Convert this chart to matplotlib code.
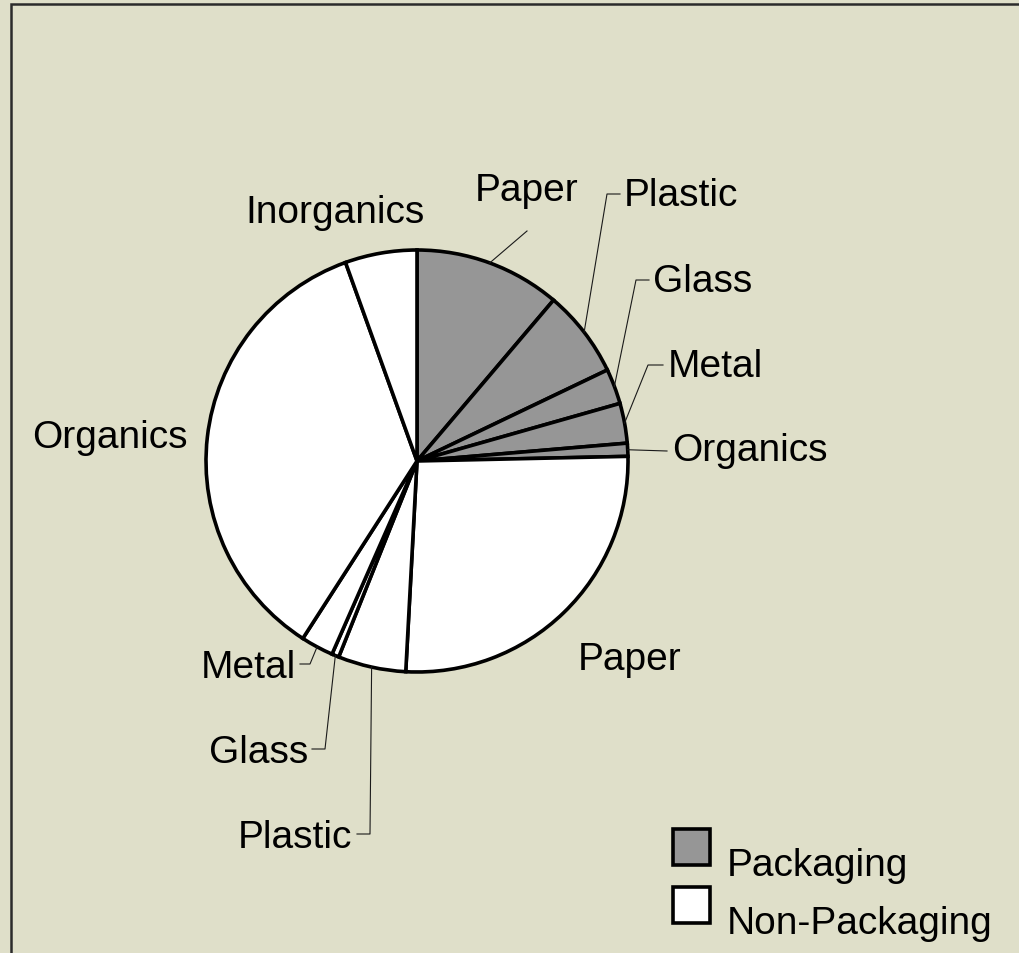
import numpy as np
import matplotlib
matplotlib.use("Agg")
import matplotlib.pyplot as plt
from matplotlib.patches import Rectangle

# Waste composition (% of total), clockwise from 12 o'clock
labels = ["Paper", "Plastic", "Glass", "Metal", "Organics",
          "Paper", "Plastic", "Glass", "Metal", "Organics", "Inorganics"]
shares = [11.2, 6.7, 2.7, 3.05, 1.0, 26.2, 5.2, 0.55, 2.5, 35.4, 5.5]
groups = ["Packaging"] * 5 + ["Non-Packaging"] * 6
legend_names = ["Packaging", "Non-Packaging"]
group_colors = {"Packaging": "#969696", "Non-Packaging": "#FFFFFF"}

W, H = 1020, 954
BG = "#DFDFC9"
FONT = "Liberation Sans"
FS = 28
DY = 3  # text baseline nudge


def P(x, y):
    """Canvas position measured from the top-left corner."""
    return (x, H - y)


fig = plt.figure(figsize=(W / 100, H / 100), dpi=100, facecolor=BG)
ax = fig.add_axes([0, 0, 1, 1])
ax.set_xlim(0, W)
ax.set_ylim(0, H)
ax.set_aspect("equal")
ax.axis("off")

# frame (left and top edges visible)
ax.plot([11, 11, W - 1], [-10, H - 5, H - 5], color="#2b2b2b", lw=1.8,
        solid_joinstyle="miter")

center = P(417, 462)
radius = 211
colors = [group_colors[g] for g in groups]
wedges, _ = ax.pie(shares, colors=colors, startangle=90, counterclock=False,
                   center=center, radius=radius,
                   wedgeprops=dict(edgecolor="black", linewidth=2.6))
ax.set_xlim(0, W)
ax.set_ylim(0, H)


def edge_point(w):
    mid = np.deg2rad((w.theta1 + w.theta2) / 2)
    return (center[0] + radius * np.cos(mid), center[1] + radius * np.sin(mid))


# label placement: (text anchor, ha, leader path to the label or None)
layout = [
    (P(527, 188), "center", [P(527, 232)]),
    (P(624, 193), "left", [P(607, 195), P(620, 195)]),
    (P(653, 279), "left", [P(636, 281), P(649, 281)]),
    (P(668, 364), "left", [P(648, 366), P(663, 366)]),
    (P(672, 448), "left", [P(667, 452)]),
    (P(630, 657), "center", None),
    (P(352, 835), "right", [P(370, 835), P(357, 835)]),
    (P(308, 750), "right", [P(325, 750), P(312, 750)]),
    (P(296, 665), "right", [P(310, 665), P(300, 665)]),
    (P(188, 435), "right", None),
    (P(335, 210), "center", None),
]

for w, name, (pos, ha, path) in zip(wedges, labels, layout):
    ax.text(pos[0], pos[1] - DY, name, ha=ha, va="center", fontsize=FS,
            family=FONT, color="black")
    if path:
        pts = [edge_point(w)] + path
        xs, ys = zip(*pts)
        ax.plot(xs, ys, color="#1a1a1a", lw=0.8)

# legend
for i, name in enumerate(legend_names):
    top = 830 + i * 58
    ax.add_patch(Rectangle(P(673, top + 36), 37, 36,
                           facecolor=group_colors[name], edgecolor="black",
                           lw=2.6))
    ax.text(727, H - (top + 33) - DY, name, ha="left", va="center",
            fontsize=FS, family=FONT, color="black")

fig.savefig("out.png", dpi=100, facecolor=BG)
